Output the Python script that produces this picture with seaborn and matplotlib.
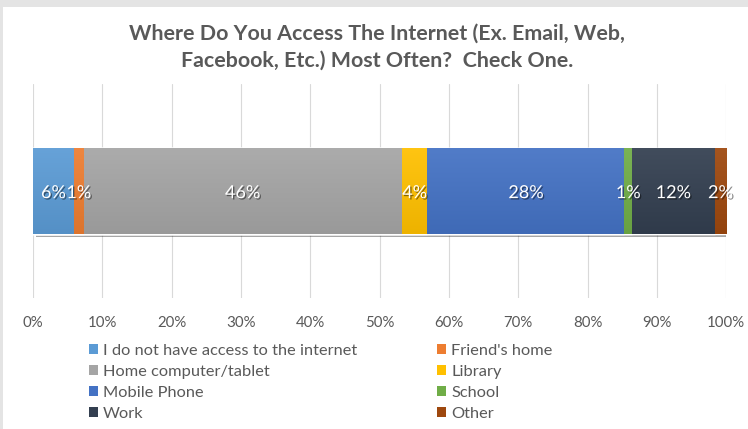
import numpy as np
import pandas as pd
import matplotlib
matplotlib.use("Agg")
import matplotlib.pyplot as plt
import matplotlib.patheffects as pe
from matplotlib.patches import Patch, Rectangle
from matplotlib.colors import to_rgb
import seaborn as sns

# Survey responses (percent of respondents)
categories = [
    "I do not have access to the internet",
    "Friend's home",
    "Home computer/tablet",
    "Library",
    "Mobile Phone",
    "School",
    "Work",
    "Other",
]
shares = [5.9, 1.4, 45.9, 3.7, 28.4, 1.1, 11.9, 1.7]
colors = ["#5B9BD5", "#ED7D31", "#A5A5A5", "#FFC000",
          "#4472C4", "#70AD47", "#333F50", "#9E480E"]
x_ticks = list(range(0, 101, 10))
title_lines = ["Where Do You Access The Internet (Ex. Email, Web,",
               "Facebook, Etc.) Most Often?  Check One."]

TEXT_GREY = "#595959"

sns.set_theme(style="white")
plt.rcParams["font.family"] = ["Lato", "DejaVu Sans"]

W, H = 748, 429
fig = plt.figure(figsize=(W / 100, H / 100), dpi=100)
fig.patch.set_facecolor("white")
renderer = fig.canvas.get_renderer()


def text_box(text, size, **kw):
    t = fig.text(0, 0, text, fontsize=size, **kw)
    bb = t.get_window_extent(renderer)
    t.remove()
    return bb.width, bb.height


def fit_size(text, width_px, **kw):
    """Font size (pt) at which `text` is `width_px` pixels wide."""
    return 10 * width_px / text_box(text, 10, **kw)[0]


title_fs = fit_size(title_lines[0], 498, fontweight="bold")
legend_fs = fit_size(categories[0], 254)
tick_fs = fit_size("100%", 38)
value_fs = fit_size("12%", 35.5)

# legend rows 21 px apart
row_px = 21
legend_px = legend_fs * 100 / 72
label_h = text_box(categories[0], legend_fs)[1]
legend_gap = (row_px - label_h) / legend_px

# thin grey frame along the top and left edges
fig.patches.append(Rectangle((0, 1 - 6.5 / H), 1, 6.5 / H, transform=fig.transFigure,
                             facecolor="#e4e4e4", edgecolor="none", zorder=0))
fig.patches.append(Rectangle((0, 0), 3 / W, 1, transform=fig.transFigure,
                             facecolor="#e4e4e4", edgecolor="none", zorder=0))

ax = fig.add_axes([33 / W, 1 - 298 / H, (726.3 - 33) / W, 214 / H])

ends = np.cumsum(shares)
starts = ends - np.array(shares)
df = pd.DataFrame({"category": categories, "start": starts, "end": ends,
                   "share": shares, "row": "all"})

# stacked bar: draw cumulative totals from longest to shortest
bar_h = 0.4
for i in range(len(categories) - 1, -1, -1):
    sns.barplot(data=df.iloc[[i]], x="end", y="row", color=colors[i],
                saturation=1, width=bar_h, errorbar=None, ax=ax, zorder=2)

# soft drop shadow under the whole bar
ax.patches[0].set_path_effects([
    pe.SimplePatchShadow(offset=(2, -2.5), shadow_rgbFace="black", alpha=0.35),
    pe.Normal(),
])

# subtle vertical shading on every segment
def shade(c, f):
    r = np.array(to_rgb(c))
    return np.clip(r * f, 0, 1) if f < 1 else np.clip(r + (1 - r) * (f - 1), 0, 1)

for s, e, c in zip(starts, ends, colors):
    top, bot = shade(c, 1.07), shade(c, 0.93)
    t = np.linspace(0, 1, 64)[:, None]
    grad = (top[None, :] * (1 - t) + bot[None, :] * t)[:, None, :]
    ax.imshow(grad, extent=(s, e, bar_h / 2, -bar_h / 2), origin="upper",
              aspect="auto", zorder=3, interpolation="bilinear")

# value labels
for s, v in zip(starts, shares):
    ax.text(s + v / 2, 0.01, f"{round(v)}%", ha="center", va="center",
            color="white", fontsize=value_fs, zorder=5,
            path_effects=[pe.SimplePatchShadow(offset=(1, -1), shadow_rgbFace="black",
                                               alpha=0.45),
                          pe.Normal()])

ax.set_xlim(0, 100)
ax.set_ylim(0.5, -0.5)
ax.set_xticks(x_ticks)
ax.set_xticklabels([f"{t}%" for t in x_ticks], color=TEXT_GREY, fontsize=tick_fs)
ax.set_yticks([])
ax.set_xlabel("")
ax.set_ylabel("")
ax.tick_params(axis="x", length=0, pad=13)
ax.grid(axis="x", color="#d9d9d9", linewidth=0.8, zorder=0)
ax.set_axisbelow(True)
for sp in ax.spines.values():
    sp.set_visible(False)

fig.text(377 / W, 1 - 47 / H, "\n".join(title_lines), ha="center", va="center",
         fontsize=title_fs, fontweight="bold", color=TEXT_GREY, linespacing=1.42)

# legend in two columns: left column holds the even entries, right the odd ones
legend_kw = dict(loc="upper left", frameon=False, fontsize=legend_fs, labelcolor=TEXT_GREY,
                 handlelength=9 / legend_px, handleheight=9 / legend_px,
                 handletextpad=5 / legend_px, labelspacing=legend_gap,
                 borderpad=0, borderaxespad=0)
for col, x_px in ((0, 89), (1, 437.3)):
    idx = list(range(col, len(categories), 2))
    fig.legend([Patch(facecolor=colors[i], edgecolor="none") for i in idx],
               [categories[i] for i in idx],
               bbox_to_anchor=(x_px / W, 1 - (351 - label_h / 2) / H), **legend_kw)

fig.savefig("out.png", dpi=100)
